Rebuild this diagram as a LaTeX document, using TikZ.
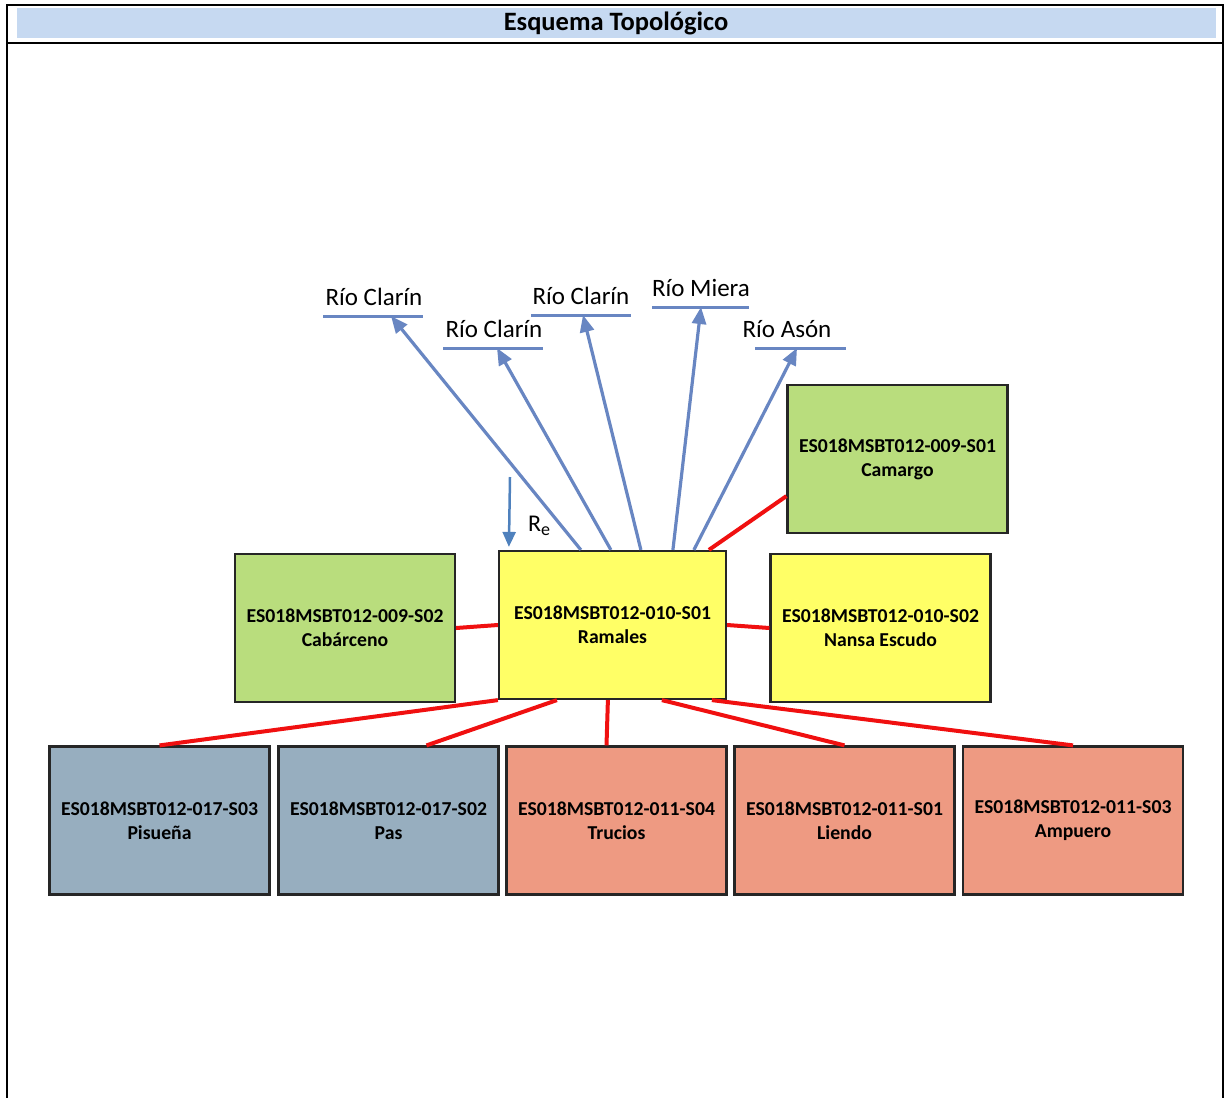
\documentclass[tikz,border=0pt]{standalone}
\usepackage{fontspec}
\setmainfont{Carlito}
\usetikzlibrary{arrows.meta,calc}

\definecolor{headfill}{RGB}{198,217,241}
\definecolor{boxgreen}{RGB}{185,221,125}
\definecolor{boxyellow}{RGB}{255,255,102}
\definecolor{boxgrey}{RGB}{151,174,191}
\definecolor{boxsalmon}{RGB}{238,154,130}
\definecolor{rayblue}{RGB}{104,134,194}
\definecolor{reblue}{RGB}{79,129,189}
\definecolor{linkred}{RGB}{240,16,16}

\tikzset{
  body/.style={draw=black!85, line width=2.2pt, minimum width=220pt, minimum height=148pt,
    inner sep=0pt, align=center, font=\fontsize{19.7}{24}\selectfont\bfseries},
  greenbox/.style={body, fill=boxgreen},
  yellowbox/.style={body, fill=boxyellow},
  greybox/.style={body, fill=boxgrey},
  salmonbox/.style={body, fill=boxsalmon},
  link/.style={draw=linkred, line width=4pt},
  ray/.style={draw=rayblue, line width=3.2pt, -{Triangle[length=17pt,width=14pt]}},
  riverline/.style={draw=rayblue, line width=3pt},
  rivertext/.style={anchor=base, inner sep=0pt, font=\fontsize{25}{29}\selectfont},
  frame/.style={draw=black, line width=2.2pt}
}

\begin{document}
\begin{tikzpicture}[x=1pt,y=-1pt]
\useasboundingbox (0,0) rectangle (1226,1098);

% header band and table frame
\fill[headfill] (17,8) rectangle (1216,38);
\node[font=\fontsize{26.5}{30}\selectfont\bfseries] (title) at (616,23) {Esquema Topológico};
\draw[frame] (6,5) -- (1224,5);
\draw[frame] (6,43) -- (1224,43);
\draw[frame] (7,4) -- (7,1098);
\draw[frame] (1223,4) -- (1223,1098);

% water bodies
\node[yellowbox, minimum width=227pt] (ram) at (612.5,625) {ES018MSBT012-010-S01\\Ramales};
\node[greenbox] (cam) at (897.5,459) {ES018MSBT012-009-S01\\Camargo};
\node[greenbox] (cab) at (345,628) {ES018MSBT012-009-S02\\Cabárceno};
\node[yellowbox] (nan) at (880.5,628) {ES018MSBT012-010-S02\\Nansa Escudo};

\node[greybox] (pis) at (159.5,820.5) {ES018MSBT012-017-S03\\Pisueña};
\node[greybox] (pas) at (388.5,820.5) {ES018MSBT012-017-S02\\Pas};
\node[salmonbox] (tru) at (616.5,820.5) {ES018MSBT012-011-S04\\Trucios};
\node[salmonbox] (lie) at (844.5,820.5) {ES018MSBT012-011-S01\\Liendo};
\node[salmonbox] (amp) at (1073,820.5) {ES018MSBT012-011-S03\\Ampuero};

% rivers
\node[rivertext] (rv1) at (374,305) {Río Clarín};
\node[rivertext] (rv2) at (494,337) {Río Clarín};
\node[rivertext] (rv3) at (581,304) {Río Clarín};
\node[rivertext] (rv4) at (701,296) {Río Miera};
\node[rivertext] (rv5) at (787,337) {Río Asón};
\draw[riverline] (323,316) -- (423,316);
\draw[riverline] (443,348) -- (543,348);
\draw[riverline] (531,315) -- (631,315);
\draw[riverline] (652,307) -- (749,307);
\draw[riverline] (755,348) -- (846,348);
\coordinate (e1) at (391,316);
\coordinate (e2) at (497,348);
\coordinate (e3) at (583,315);
\coordinate (e4) at (701,307);
\coordinate (e5) at (797,348);

% outflows to rivers
\draw[ray] ($(ram.north west)+(83,0)$) -- (e1);
\draw[ray] ($(ram.north west)+(113,0)$) -- (e2);
\draw[ray] ($(ram.north west)+(143,0)$) -- (e3);
\draw[ray] ($(ram.north west)+(175,0)$) -- (e4);
\draw[ray] ($(ram.north west)+(196,0)$) -- (e5);

% recharge
\coordinate (re) at (510,477);
\draw[draw=reblue, line width=2.5pt, -{Triangle[length=15pt,width=13pt]}] (re) -- ($(ram.north west)+(11,-3)$);
\node[font=\fontsize{24}{28}\selectfont, inner sep=0pt] (relab) at (539,526) {R\raisebox{-0.35ex}{\fontsize{18}{20}\selectfont e}};

% lateral connections
\draw[link] ($(ram.north west)+(211,0)$) -- ($(cam.south west)+(0,-38)$);
\draw[link] (cab.east) -- (ram.west);
\draw[link] (ram.east) -- (nan.west);
\draw[link] (ram.south west) -- (pis.north);
\draw[link] ($(ram.south west)+(59,0)$) -- ($(pas.north)+(38,0)$);
\draw[link] ($(ram.south west)+(110,0)$) -- ($(tru.north)+(-10,0)$);
\draw[link] ($(ram.south west)+(164,0)$) -- (lie.north);
\draw[link] ($(ram.south west)+(214,0)$) -- (amp.north);
\end{tikzpicture}
\end{document}
